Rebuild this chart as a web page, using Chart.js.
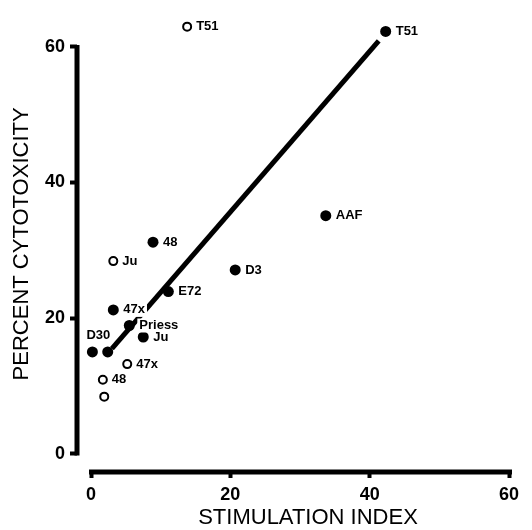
<!DOCTYPE html>
<html><head><meta charset="utf-8">
<script src="https://cdn.jsdelivr.net/npm/chart.js@4"></script>
<style>html,body{margin:0;padding:0;background:#fff}#wrap{width:532px;height:530px}</style>
</head><body><div id="wrap"><canvas id="c"></canvas></div>
<script>
// ---- data ----
const filledX = [42.3, 33.7, 20.7, 8.9, 11.1, 3.2, 5.5, 7.5, 0.2, 2.4];
const filledY = [62.3, 35.1, 27.1, 31.2, 23.9, 21.2, 18.9, 17.2, 15.0, 15.0];
const filledLabels = ['T51', 'AAF', 'D3', '48', 'E72', '47x', 'Priess', 'Ju', 'D30', ''];
const openX = [13.8, 3.2, 5.2, 1.7, 1.9];
const openY = [63.0, 28.4, 13.2, 10.9, 8.4];
const openLabels = ['T51', 'Ju', '47x', '48', ''];
const lineX = [3.0, 41.3];
const lineY = [15.5, 60.9];
const xTicks = [0, 20, 40, 60];
const yTicks = [0, 20, 40, 60];
const xTitle = 'STIMULATION INDEX';
const yTitle = 'PERCENT CYTOTOXICITY';

// label placement (style only)
const labelAbove = ['D30'];

const FONT = '"Liberation Sans", Arial, Helvetica, sans-serif';
const pts = (xs, ys) => xs.map((x, i) => ({x: x, y: ys[i]}));

const axisPlugin = {
  id: 'axes',
  beforeDatasetsDraw(chart) {
    const ctx = chart.ctx, xs = chart.scales.x, ys = chart.scales.y, ca = chart.chartArea;
    ctx.save();
    ctx.strokeStyle = '#000';
    ctx.lineWidth = 5;
    ctx.lineCap = 'butt';
    ctx.beginPath();
    ctx.moveTo(ca.left, ys.getPixelForValue(yTicks[yTicks.length - 1]) - 2);
    ctx.lineTo(ca.left, ys.getPixelForValue(yTicks[0]) + 2);
    ctx.stroke();
    ctx.beginPath();
    ctx.moveTo(xs.getPixelForValue(xTicks[0]) - 2, ca.bottom);
    ctx.lineTo(xs.getPixelForValue(xTicks[xTicks.length - 1]) + 3, ca.bottom);
    ctx.stroke();
    ctx.restore();
  },
  afterDraw(chart) {
    const ctx = chart.ctx, xs = chart.scales.x;
    ctx.save();
    ctx.fillStyle = '#000';
    ctx.font = '22px ' + FONT;
    ctx.textAlign = 'center';
    ctx.textBaseline = 'middle';
    const cx = (xs.getPixelForValue(xTicks[0]) + xs.getPixelForValue(xTicks[xTicks.length - 1])) / 2 + 8;
    ctx.fillText(xTitle, cx, chart.height - 12);
    ctx.restore();
  }
};

const labelPlugin = {
  id: 'pointLabels',
  afterDatasetsDraw(chart) {
    const ctx = chart.ctx;
    ctx.save();
    ctx.font = 'bold 13px ' + FONT;
    ctx.textBaseline = 'middle';
    chart.data.datasets.forEach((ds, di) => {
      if (!ds.pointLabels) return;
      const meta = chart.getDatasetMeta(di);
      meta.data.forEach((el, i) => {
        const t = ds.pointLabels[i];
        if (!t) return;
        const w = ctx.measureText(t).width;
        let x, y;
        if (labelAbove.includes(t)) {
          x = el.x + 6 - w / 2; y = el.y - 16;
        } else {
          x = el.x + ds.labelGap; y = el.y;
        }
        ctx.fillStyle = '#fff';
        ctx.fillRect(x - 2, y - 7, w + 4, 14);
        ctx.fillStyle = '#000';
        ctx.textAlign = 'left';
        ctx.fillText(t, x, y);
      });
    });
    ctx.restore();
  }
};

new Chart(document.getElementById('c'), {
  type: 'scatter',
  data: {
    datasets: [
      {
        type: 'line', data: pts(lineX, lineY), borderColor: '#000', borderWidth: 5,
        pointRadius: 0, showLine: true, fill: false, order: 3
      },
      {
        data: pts(filledX, filledY), pointLabels: filledLabels, labelGap: 10,
        pointRadius: 5.5, backgroundColor: '#000', borderColor: '#000', borderWidth: 0, order: 1
      },
      {
        data: pts(openX, openY), pointLabels: openLabels, labelGap: 9,
        pointRadius: 4, backgroundColor: '#fff', borderColor: '#000', borderWidth: 2, order: 2
      }
    ]
  },
  options: {
    responsive: true, maintainAspectRatio: false, animation: false, events: [],
    layout: { padding: { left: 0, right: 23, top: 2, bottom: 0 } },
    plugins: { legend: { display: false }, tooltip: { enabled: false } },
    scales: {
      x: {
        type: 'linear', min: -2.01, max: 60,
        afterBuildTicks: s => { s.ticks = xTicks.map(v => ({value: v})); },
        afterFit: s => { s.height = 58; },
        border: { display: false },
        grid: { display: true, drawOnChartArea: false, drawTicks: true, tickLength: 6, tickWidth: 4, tickColor: '#000' },
        ticks: { color: '#000', font: { family: FONT, size: 18, weight: 'bold' }, padding: 6, autoSkip: false, maxRotation: 0 }
      },
      y: {
        type: 'linear', min: -2.72, max: 64.6,
        afterBuildTicks: s => { s.ticks = yTicks.map(v => ({value: v})); },
        afterFit: s => { s.width = 77; },
        border: { display: false },
        grid: { display: true, drawOnChartArea: false, drawTicks: true, tickLength: 7, tickWidth: 4, tickColor: '#000' },
        ticks: { color: '#000', font: { family: FONT, size: 18, weight: 'bold' }, padding: 5, autoSkip: false },
        title: { display: true, text: yTitle, color: '#000', font: { family: FONT, size: 22 }, padding: { top: 9, bottom: 0 } }
      }
    }
  },
  plugins: [axisPlugin, labelPlugin]
});
</script>
</body></html>
